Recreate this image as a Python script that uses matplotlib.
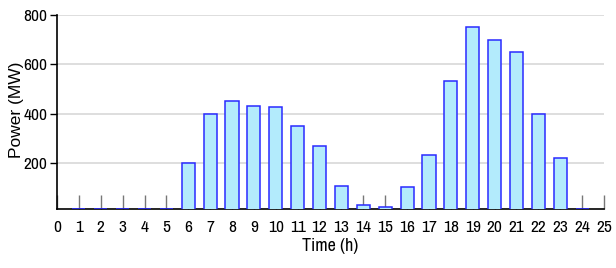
import matplotlib.pyplot as plt
from matplotlib import font_manager

hours = list(range(1, 25))
power = [0, 0, 0, 0, 0, 200, 400, 450, 430, 425, 350, 270,
         105, 30, 20, 100, 230, 530, 750, 700, 650, 400, 220, 0]
x_ticks = list(range(0, 26))
y_ticks = [200, 400, 600, 800]

names = {f.name for f in font_manager.fontManager.ttflist}
narrow = "Archivo Narrow" if "Archivo Narrow" in names else "DejaVu Sans"

fig = plt.figure(figsize=(6.16, 2.68), dpi=100)
ax = fig.add_axes([0.0925, 0.22, 0.888, 0.724])

y_low = 12
ax.bar(hours, power, width=0.6, color="#b3ebfc", edgecolor="#2a2aff",
       linewidth=1.1, zorder=3)
# zero-valued hours still show a thin outline on the axis
zero_hours = [h for h, p in zip(hours, power) if p == 0]
ax.hlines([y_low + 1] * len(zero_hours), [h - 0.3 for h in zero_hours],
          [h + 0.3 for h in zero_hours], color="#2a2aff", lw=1.2, zorder=4)

ax.set_xlim(0, 25)
ax.set_ylim(y_low, 800)
ax.set_xticks(x_ticks)
ax.set_yticks(y_ticks)
ax.yaxis.grid(True, color="#d8d8d8", lw=1.2, zorder=0)

ax.tick_params(axis="x", direction="in", length=10, color="#777777",
               width=1, pad=8)
ax.tick_params(axis="y", direction="out", length=5, color="black", width=1,
               pad=2)
for lab in ax.get_xticklabels() + ax.get_yticklabels():
    lab.set_family([narrow, "DejaVu Sans"])
    lab.set_fontsize(12.5)

for side in ["top", "right"]:
    ax.spines[side].set_visible(False)
for side in ["left", "bottom"]:
    ax.spines[side].set_linewidth(1.2)

ax.set_xlabel("Time (h)", family=[narrow, "DejaVu Sans"], fontsize=13,
              labelpad=2)
ax.set_ylabel("Power (MW)", family="Liberation Sans", fontsize=12.5,
              labelpad=4)
ax.yaxis.set_label_coords(-0.06, 0.51)

fig.savefig("out.png", dpi=100)
